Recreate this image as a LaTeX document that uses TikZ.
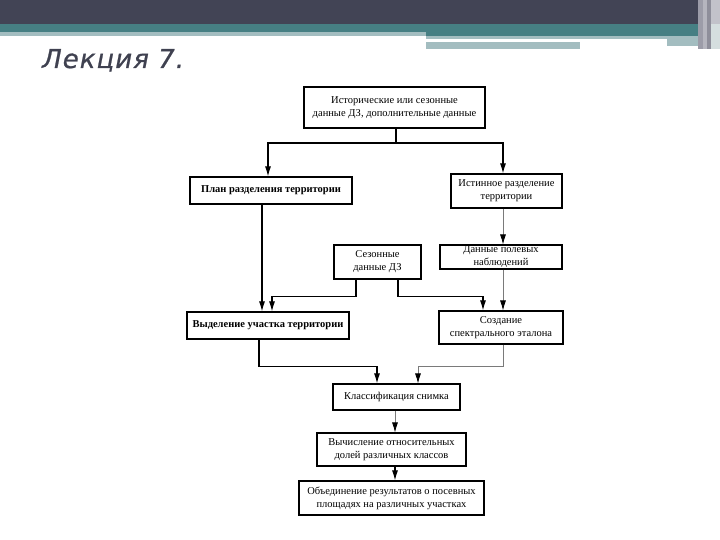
\documentclass[tikz,border=0pt]{standalone}
\usepackage{fontspec}
\setmainfont{Liberation Serif}
\newfontfamily\titlefont[LetterSpace=4,FakeBold=0.8]{DejaVu Sans}
\usetikzlibrary{arrows.meta}
\definecolor{hdrdark}{HTML}{424455}
\definecolor{hdrteal}{HTML}{467F83}
\definecolor{hdrlight}{HTML}{A3BDC0}
\definecolor{titlecol}{HTML}{3F4150}
\definecolor{linegrey}{HTML}{7A7A7A}
\definecolor{stripeA}{HTML}{9C9CA8}
\definecolor{stripeB}{HTML}{B5B5BE}
\definecolor{stripeC}{HTML}{8E8E9A}
\definecolor{stripeD}{HTML}{C2C2CA}
\definecolor{stripeE}{HTML}{D5DEDF}
\tikzset{
  box/.style={draw=black, line width=1.2pt, inner sep=1pt, align=center,
    font=\fontsize{10.5}{13}\selectfont, text=black},
  boldbox/.style={box, font=\bfseries\fontsize{10.5}{13}\selectfont},
  conn/.style={line width=1.1pt, draw=black},
  thin/.style={line width=0.7pt, draw=linegrey},
  arr/.style={-{Latex[length=10pt,width=6pt,color=black]}},
}
\begin{document}
\begin{tikzpicture}[x=1pt,y=-1pt]
\useasboundingbox (0,0) rectangle (720,540);
\fill[white] (0,0) rectangle (720,540);
% header bands
\fill[hdrdark] (0,0) rectangle (720,24);
\fill[hdrteal] (0,24) rectangle (720,32);
\fill[hdrlight] (0,32) rectangle (426,36);
\fill[hdrteal] (426,32) rectangle (698,36);
\fill[hdrlight] (426,36) rectangle (667,39);
\fill[hdrlight] (426,42) rectangle (580,49);
\fill[hdrlight] (667,36) rectangle (698,46);
\fill[stripeA] (698,0) rectangle (703,49);
\fill[stripeB] (703,0) rectangle (707,49);
\fill[stripeC] (707,0) rectangle (711,49);
\fill[stripeD] (711,0) rectangle (720,24);
\fill[stripeE] (711,24) rectangle (720,49);
% title
\node[anchor=base west, inner sep=0pt, text=titlecol,
  font=\titlefont\itshape\fontsize{26}{30}\selectfont] (title) at (42,68) {Лекция 7.};
% boxes
\node[box, minimum width=181, minimum height=41] (top) at (394.5,107.5)
  {Исторические или сезонные\\данные ДЗ, дополнительные данные};
\node[boldbox, minimum width=162, minimum height=27] (plan) at (271,190.5)
  {План разделения территории};
\node[box, minimum width=111, minimum height=34] (ist) at (506.5,191)
  {Истинное разделение\\территории};
\node[box, minimum width=122, minimum height=24] (pol) at (501,257)
  {Данные полевых\\наблюдений};
\node[box, minimum width=87, minimum height=34] (sez) at (377.5,262)
  {Сезонные\\данные ДЗ};
\node[boldbox, minimum width=162, minimum height=27] (vyd) at (268,325.5)
  {Выделение участка территории};
\node[box, minimum width=124, minimum height=33] (soz) at (501,327.5)
  {Создание\\спектрального эталона};
\node[box, minimum width=127, minimum height=26] (kla) at (396.5,397)
  {Классификация снимка};
\node[box, minimum width=149, minimum height=33] (vych) at (391.5,449.5)
  {Вычисление относительных\\долей различных классов};
\node[box, minimum width=185, minimum height=34] (obj) at (391.5,498)
  {Объединение результатов о посевных\\площадях на различных участках};
% connectors
\coordinate (j1) at (396,143);
\draw[conn] ([xshift=1.5]top.south) -- (j1);
\draw[conn,arr] (j1) -| ([xshift=-3]plan.north);
\draw[conn,arr] (j1) -| ([xshift=-3.5]ist.north);
\draw[conn,arr] ([xshift=-9]plan.south) -- ([xshift=-9]plan.south |- vyd.north);
\draw[conn,arr] ([xshift=-21.5]sez.south) -- ++(0,17) -| ([xshift=4]vyd.north);
\draw[conn,arr] ([xshift=20.5]sez.south) -- ++(0,17) -| ([xshift=-18]soz.north);
\draw[thin,arr] ([xshift=-3.5]ist.south) -- ([xshift=-3.5]ist.south |- pol.north);
\draw[thin,arr] ([xshift=2]pol.south) -- ([xshift=2]pol.south |- soz.north);
\draw[conn,arr] ([xshift=-9]vyd.south) -- ++(0,27) -| ([xshift=-19.5]kla.north);
\draw[thin,arr] ([xshift=2]soz.south) -- ++(0,22) -| ([xshift=21.5]kla.north);
\draw[thin,arr] ([xshift=-1.5]kla.south) -- ([xshift=-1.5]kla.south |- vych.north);
\draw[conn,arr] ([xshift=3.5]vych.south) -- ([xshift=3.5]vych.south |- obj.north);
\end{tikzpicture}
\end{document}
